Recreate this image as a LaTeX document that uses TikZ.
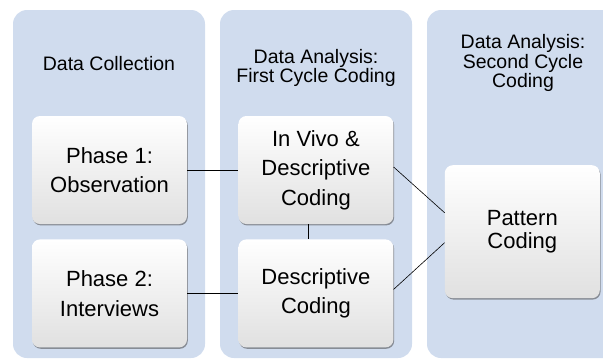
\documentclass[tikz,border=0pt]{standalone}
\usepackage{fontspec}
\setmainfont{Liberation Sans}
\usepackage{tikz}
\usetikzlibrary{positioning, calc, shadows}
\definecolor{colbg}{RGB}{208,220,238}

\begin{document}
\begin{tikzpicture}[x=1pt, y=-1pt,
		col/.style={fill=colbg, rounded corners=14pt},
		head/.style={align=center, font=\fontsize{19.5}{17}\selectfont},
		box/.style={rounded corners=8pt, top color=white, bottom color=black!12,
			minimum width=155pt, minimum height=108pt, align=center,
			font=\fontsize{22}{29.5}\selectfont,
			drop shadow={shadow xshift=0.8pt, shadow yshift=-1.4pt, fill=black!70, opacity=0.55}},
		link/.style={draw, line width=0.6pt}
		]
		\useasboundingbox (0,0) rectangle (603,360);
		\clip (0,0) rectangle (603,360);
		% columns
		\fill[col] (13,10) rectangle (205,358);
		\fill[col] (220,10) rectangle (412,358);
		\fill[col] (427,10) rectangle (640,358);
		\node[head] (h1) at (109,64) {Data Collection};
		\node[head] (h2) at (316,68) {Data Analysis:\\First Cycle Coding};
		\node[head] (h3) at (523,63) {Data Analysis:\\Second Cycle\\Coding};
		% boxes
		\node[box] (p1) at (109.5,170) {Phase 1:\\Observation};
		\node[box, below=15pt of p1] (p2) {Phase 2:\\Interviews};
		\node[box, right=51pt of p1] (iv) {In Vivo \&\\Descriptive\\Coding};
		\node[box, right=51pt of p2] (dc) {Descriptive\\Coding};
		\coordinate (ivdc) at ($(iv.east)!0.5!(dc.east)$);
		\node[box, minimum height=133pt, font=\fontsize{22}{23.5}\selectfont,
			right=51pt of ivdc] (pc) {Pattern\\Coding};
		
		\foreach \s/\t in {p1/iv, p2/dc}
		\draw[link] (\s.east) -- (\t.west);
		\draw[link] ([xshift=-8pt]iv.south) -- ([xshift=-8pt]dc.north);
		\draw[link] ([yshift=3pt]iv.east) -- ([yshift=19pt]pc.west);
		\draw[link] ([yshift=4pt]dc.east) -- ([yshift=-11pt]pc.west);
	\end{tikzpicture}
\end{document}
